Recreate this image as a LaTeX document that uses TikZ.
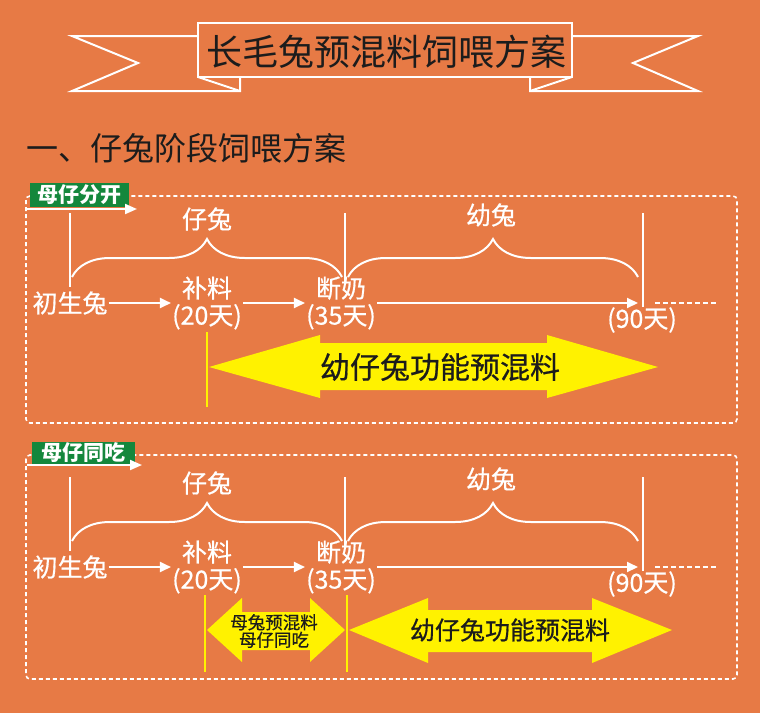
\documentclass[tikz,border=0pt]{standalone}
\usepackage{fontspec}
\setmainfont{Noto Sans CJK SC}
\newfontfamily\medcjk[FakeBold=0.6]{Noto Sans CJK SC}
\usetikzlibrary{arrows.meta,decorations.pathreplacing}
\definecolor{bgorange}{RGB}{231,122,69}
\definecolor{labelgreen}{RGB}{20,135,60}
\definecolor{hiyellow}{RGB}{255,242,0}
\definecolor{inkdark}{RGB}{28,28,28}
\newcommand{\setfs}[1]{\fontsize{#1}{#1}\selectfont}
\begin{document}
\begin{tikzpicture}[x=1pt,y=-1pt,
  wline/.style={draw=white,line width=2pt},
  wtext/.style={text=white,font=\medcjk\setfs{25},inner sep=1pt,align=center},
  flowarrow/.style={wline,-{Triangle[length=11pt,width=10pt]}},
  bracepath/.style={wline,decorate,decoration={brace,amplitude=38pt}},
  dashbox/.style={draw=white,line width=1.6pt,dash pattern=on 4pt off 3pt,rounded corners=4pt},
  tagbox/.style={fill=labelgreen,text=white,font=\setfs{21}\bfseries,inner sep=0pt},
  ribbon/.style={draw=white,line width=2pt,line join=miter},
  yline/.style={draw=hiyellow,line width=2.5pt},
  yfill/.style={fill=hiyellow},
  ytext/.style={text=inkdark,inner sep=0pt,align=center}]
\useasboundingbox (0,0) rectangle (760,713);
\fill[bgorange] (0,0) rectangle (760,713);

% ---- title ribbon ----
\draw[ribbon] (198,36) -- (72,36) -- (138,63) -- (72,91) -- (240,91) -- (240,77);
\draw[ribbon] (198,77) -- (240,91);
\draw[ribbon] (572,36) -- (698,36) -- (633,63) -- (698,91) -- (530,91) -- (530,77);
\draw[ribbon] (572,77) -- (530,91);
\node[ribbon,minimum width=374pt,minimum height=54pt,inner sep=0pt] (titlebox) at (385,50) {};
\node[text=inkdark,font=\setfs{36},inner sep=0pt] (title) at (386,52) {长毛兔预混料饲喂方案};

% ---- section heading ----
\node[text=inkdark,font=\setfs{32},anchor=west,inner sep=0pt] (heading) at (26,148) {一、仔兔阶段饲喂方案};

% ---- dashed panels ----
\draw[dashbox] (26,196) rectangle (737,423);
\draw[dashbox] (26,455) rectangle (737,679);

% ---- panel labels ----
\node[tagbox,minimum width=99pt,minimum height=24pt] (tagA) at (79.5,195) {母仔分开};
\coordinate (tagAstart) at (27,209);
\coordinate (tagAend) at (137,209);
\draw[wline,-{Triangle[length=12pt,width=10pt]}] (tagAstart) -- (tagAend);
\node[tagbox,minimum width=103pt,minimum height=22pt] (tagB) at (83.5,453) {母仔同吃};
\coordinate (tagBstart) at (27,465);
\coordinate (tagBend) at (142,465);
\draw[wline,-{Triangle[length=12pt,width=10pt]}] (tagBstart) -- (tagBend);

% ---- common timeline content ----
\foreach \dy/\pf in {0/a-,264/b-}{
\begin{scope}[shift={(0,\dy)},name prefix=\pf]
  \draw[wline] (70,213) -- (70,287);
  \draw[wline] (345,213) -- (345,282);
  \draw[wline] (643,213) -- (643,307);
  \coordinate (b1s) at (72,277);
  \coordinate (b1e) at (342,277);
  \coordinate (b2s) at (348,277);
  \coordinate (b2e) at (638,277);
  \draw[bracepath] (b1s) -- (b1e);
  \draw[bracepath] (b2s) -- (b2e);
  \node[wtext] (young) at (207,219) {仔兔};
  \node[wtext] (juv) at (491,215) {幼兔};
  \node[wtext] (born) at (70,303) {初生兔};
  \node[wtext] (feed) at (207,303) {补料\\[2pt](20天)};
  \node[wtext] (wean) at (341,303) {断奶\\[2pt](35天)};
  \node[wtext] (d90) at (642,320) {(90天)};
  \coordinate (end90) at (638,303);
  \coordinate (dashs) at (655,303);
  \coordinate (dashe) at (717,303);
  \draw[flowarrow] (born) -- (feed);
  \draw[flowarrow] (feed) -- (wean);
  \draw[flowarrow] (wean) -- (end90);
  \draw[draw=white,line width=1.6pt,dash pattern=on 5pt off 3pt] (dashs) -- (dashe);
\end{scope}
}

% ---- top panel yellow arrow ----
\draw[yline] (207,332) -- (207,407);
\fill[yfill] (209,367) -- (320,335) -- (320,343) -- (547,343) -- (547,335) -- (658,367)
  -- (547,398) -- (547,390) -- (320,390) -- (320,398) -- cycle;
\node[ytext,font=\medcjk\setfs{30}] (ytxtA) at (440,367) {幼仔兔功能预混料};

% ---- bottom panel yellow arrows ----
\draw[yline] (205,595) -- (205,672);
\draw[yline] (347,595) -- (347,672);
\fill[yfill] (207,630) -- (242,598) -- (242,612) -- (310,612) -- (310,598) -- (345,630)
  -- (310,662) -- (310,650) -- (242,650) -- (242,662) -- cycle;
\fill[yfill] (349,630) -- (428,598) -- (428,610) -- (592,610) -- (592,598) -- (672,630)
  -- (592,663) -- (592,652) -- (428,652) -- (428,663) -- cycle;
\node[ytext,font=\medcjk\setfs{17.5}] (ytxtB) at (274,631) {母兔预混料\\[0pt]母仔同吃};
\node[ytext,font=\medcjk\setfs{25}] (ytxtC) at (510,630) {幼仔兔功能预混料};
\end{tikzpicture}
\end{document}
